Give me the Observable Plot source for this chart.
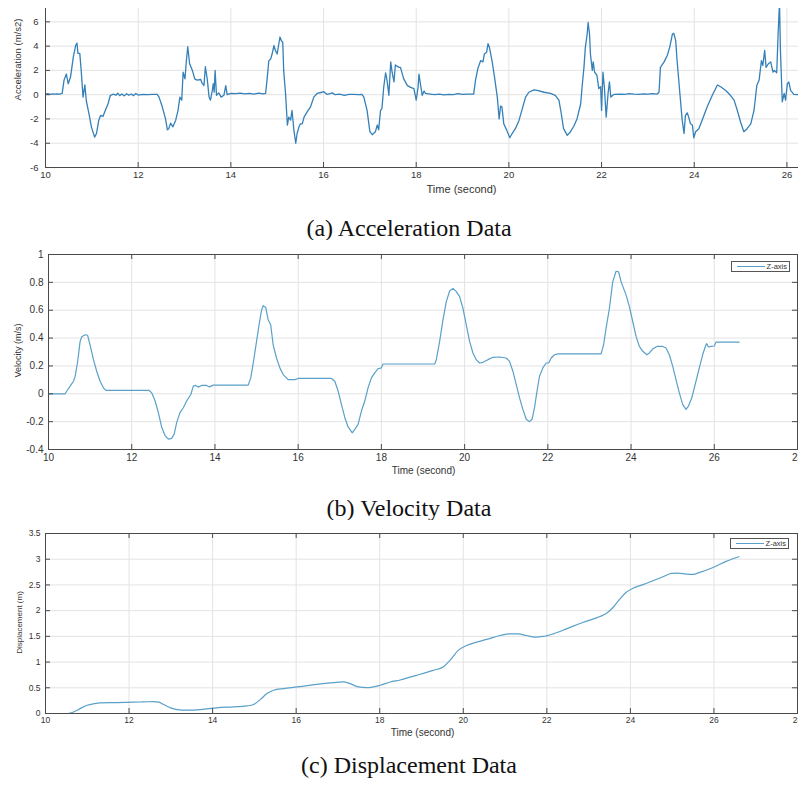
<!DOCTYPE html>
<html>
<head>
<meta charset="utf-8">
<script src="https://cdn.jsdelivr.net/npm/d3@7"></script>
<script src="https://cdn.jsdelivr.net/npm/@observablehq/plot@0.6"></script>
<style>
  body { margin: 0; background: #fff; width: 798px; overflow: hidden; }
  .panel { position: relative; width: 798px; }
  .panel svg { display: block; }
  .cap { font-family: "Liberation Serif", "DejaVu Serif", serif; font-size: 24px; line-height: 24px;
         text-align: center; color: #111; box-sizing: border-box; padding-left: 20px; width: 798px; }
  .legend { position: absolute; box-sizing: border-box; border: 1px solid #555; background: #fff;
            display: flex; align-items: center; justify-content: flex-end; padding-right: 2px;
            font: 7.5px "Liberation Sans", Arial, sans-serif; color: #333; }
  .lline { display: inline-block; width: 28px; height: 0; border-top: 1px solid #5aa0c8; margin-right: 2px; }
</style>
</head>
<body>
<div id="pa" class="panel"></div>
<div class="cap" style="padding-top:16px;height:40px">(a) Acceleration Data</div>
<div id="pb" class="panel"></div>
<div class="cap" style="padding-top:16px;height:40px">(b) Velocity Data</div>
<div id="pc" class="panel"></div>
<div class="cap" style="padding-top:8px;height:42px">(c) Displacement Data</div>
<script>
// ---------------- DATA ----------------
const accelT = [10.00,10.05,10.10,10.15,10.20,10.25,10.30,10.36,10.40,10.45,10.49,10.54,10.60,10.65,10.68,10.70,10.74,10.77,10.81,10.85,10.88,10.94,10.99,11.06,11.10,11.15,11.19,11.24,11.29,11.35,11.40,11.47,11.52,11.56,11.60,11.65,11.70,11.75,11.80,11.85,11.90,11.95,12.00,12.10,12.20,12.30,12.41,12.45,12.52,12.59,12.63,12.66,12.70,12.75,12.81,12.86,12.90,12.94,12.97,13.01,13.04,13.07,13.11,13.17,13.22,13.27,13.35,13.38,13.42,13.45,13.49,13.53,13.56,13.60,13.62,13.64,13.66,13.69,13.74,13.79,13.85,13.89,13.92,14.0,14.1,14.2,14.3,14.4,14.5,14.6,14.7,14.75,14.78,14.82,14.86,14.89,14.93,14.96,15.00,15.04,15.06,15.09,15.12,15.14,15.18,15.22,15.25,15.29,15.32,15.36,15.40,15.43,15.47,15.50,15.54,15.58,15.65,15.72,15.79,15.86,15.97,16.00,16.08,16.14,16.19,16.25,16.35,16.45,16.55,16.65,16.75,16.83,16.87,16.94,17.00,17.05,17.12,17.16,17.19,17.23,17.26,17.30,17.34,17.37,17.41,17.45,17.48,17.52,17.55,17.63,17.66,17.73,17.81,17.88,17.95,18.00,18.04,18.06,18.09,18.13,18.17,18.20,18.3,18.4,18.5,18.6,18.7,18.8,18.9,19.0,19.1,19.24,19.28,19.33,19.39,19.44,19.47,19.52,19.55,19.58,19.60,19.64,19.69,19.75,19.79,19.82,19.85,19.89,19.95,20.02,20.07,20.14,20.22,20.29,20.36,20.43,20.54,20.61,20.76,20.90,21.00,21.08,21.13,21.18,21.26,21.33,21.40,21.47,21.55,21.58,21.62,21.65,21.69,21.71,21.74,21.76,21.80,21.82,21.85,21.90,21.94,21.98,22.00,22.03,22.06,22.10,22.14,22.17,22.20,22.27,22.4,22.5,22.6,22.7,22.8,22.9,23.0,23.1,23.2,23.24,23.27,23.35,23.42,23.47,23.53,23.56,23.60,23.63,23.69,23.74,23.78,23.81,23.85,23.88,23.92,23.96,23.99,24.03,24.10,24.17,24.28,24.39,24.50,24.57,24.68,24.78,24.86,24.93,25.00,25.07,25.14,25.22,25.29,25.35,25.40,25.45,25.48,25.52,25.55,25.60,25.65,25.70,25.73,25.78,25.81,25.84,25.86,25.90,25.94,25.97,26.01,26.04,26.08,26.15,26.22,26.3];
const accelV = [0.05,0.08,0.03,0.07,0.05,0.06,0.04,0.1,1.2,1.7,0.9,1.45,3.1,4.05,4.25,3.4,3.4,2.0,-0.2,0.8,-0.5,-1.6,-2.65,-3.5,-3.2,-2.1,-1.7,-1.8,-1.3,-0.75,-0.05,0.05,-0.05,0.12,-0.08,0.05,-0.1,0.08,-0.05,0.06,-0.08,0.1,-0.03,0.02,0.0,0.03,0.02,-0.2,-1.0,-2.0,-2.9,-2.8,-2.35,-2.65,-2.1,-1.3,-0.2,-0.45,1.85,1.3,2.8,3.95,2.55,2.0,1.3,1.2,1.25,0.95,0.75,2.3,1.3,-0.2,-0.45,0.35,0.9,0.2,2.0,-0.05,0.15,-0.2,-0.05,0.75,0.0,0.1,0.08,0.12,0.06,0.1,0.05,0.12,0.06,0.1,1.2,2.8,2.95,3.35,4.05,3.65,3.35,4.3,4.75,4.45,4.3,2.0,0.1,-2.5,-1.85,-2.1,-1.3,-2.9,-4.0,-3.2,-2.65,-2.4,-2.4,-1.85,-1.4,-1.0,-0.2,0.1,0.2,0.25,0.02,0.08,0.15,0.0,0.05,-0.05,0.02,0.03,0.0,0.02,-0.2,-1.3,-3.05,-3.3,-3.05,-2.5,-2.9,-1.3,-1.15,0.65,1.8,1.2,-0.05,2.7,1.85,1.05,2.45,2.25,2.25,1.3,0.75,0.6,0.5,-0.45,0.6,1.7,0.9,-0.05,0.3,0.1,0.05,0.0,0.05,-0.02,0.02,0.0,0.08,0.02,0.05,0.05,1.2,2.15,2.8,2.7,3.35,3.5,4.2,3.9,3.5,2.7,1.45,-0.2,-2.0,-0.95,-1.0,-2.4,-2.9,-3.55,-3.2,-2.8,-2.1,-1.15,-0.2,0.2,0.4,0.35,0.2,0.1,-0.05,-0.45,-1.55,-2.8,-3.35,-3.05,-2.6,-2.0,-0.75,0.65,2.25,3.9,5.0,5.95,5.0,3.35,2.0,2.7,1.85,1.6,0.5,0.65,-1.3,1.85,0.65,-1.85,0.1,1.05,-0.2,0.03,0.05,0.02,0.08,0.05,0.03,0.06,0.04,0.08,0.05,0.2,2.25,2.7,3.25,3.9,5.0,5.05,4.45,2.8,0.1,-2.1,-3.2,-1.7,-1.5,-1.85,-2.4,-2.5,-3.55,-3.05,-2.8,-2.1,-1.0,-0.05,0.8,0.65,0.35,-0.05,-0.45,-1.3,-2.25,-3.05,-2.8,-2.4,-1.3,0.75,1.2,2.8,2.4,3.65,2.25,2.55,2.7,1.85,2.0,1.8,5.0,7.6,3.65,-0.6,0.1,-0.45,0.9,1.05,0.35,0.03,0.0,0.0];

const velT = [10.0,10.4,10.44,10.52,10.6,10.64,10.7,10.76,10.8,10.88,10.94,11.0,11.08,11.16,11.24,11.32,11.38,12.42,12.48,12.56,12.64,12.72,12.8,12.88,12.96,13.02,13.08,13.16,13.24,13.32,13.42,13.48,13.54,13.6,13.68,13.8,13.86,13.96,14.8,14.86,14.92,15.0,15.06,15.12,15.16,15.22,15.28,15.34,15.4,15.48,15.56,15.64,15.76,15.92,16.0,16.8,16.88,16.96,17.04,17.12,17.2,17.3,17.36,17.44,17.52,17.6,17.68,17.76,17.84,17.92,18.0,18.04,19.28,19.32,19.4,19.48,19.56,19.64,19.72,19.8,19.88,19.96,20.04,20.12,20.2,20.28,20.36,20.44,20.56,20.68,20.84,21.0,21.08,21.16,21.24,21.32,21.4,21.48,21.56,21.62,21.68,21.74,21.8,21.88,21.96,22.02,22.08,22.16,22.24,23.28,23.34,23.4,23.48,23.56,23.64,23.7,23.76,23.82,23.88,23.96,24.04,24.12,24.2,24.28,24.38,24.44,24.52,24.62,24.76,24.84,24.92,25.0,25.08,25.16,25.24,25.32,25.38,25.46,25.56,25.64,25.72,25.8,25.82,25.86,25.92,26.0,26.04,26.6];
const velV = [0,0,0.02,0.055,0.09,0.125,0.23,0.376,0.41,0.424,0.42,0.35,0.245,0.16,0.09,0.043,0.024,0.024,0.007,-0.05,-0.135,-0.24,-0.3,-0.326,-0.32,-0.29,-0.207,-0.135,-0.1,-0.052,-0.005,0.055,0.06,0.048,0.06,0.06,0.05,0.062,0.062,0.114,0.22,0.376,0.495,0.6,0.633,0.62,0.53,0.495,0.35,0.257,0.186,0.138,0.102,0.102,0.11,0.11,0.09,0.02,-0.076,-0.17,-0.238,-0.28,-0.255,-0.22,-0.124,-0.052,0.043,0.114,0.15,0.18,0.186,0.214,0.214,0.245,0.376,0.53,0.662,0.738,0.757,0.733,0.698,0.614,0.495,0.376,0.293,0.245,0.221,0.226,0.245,0.262,0.264,0.257,0.233,0.162,0.067,-0.029,-0.112,-0.183,-0.2,-0.183,-0.1,0.019,0.126,0.186,0.221,0.221,0.257,0.28,0.286,0.286,0.352,0.471,0.614,0.805,0.88,0.876,0.805,0.757,0.71,0.626,0.519,0.412,0.34,0.305,0.28,0.293,0.321,0.34,0.34,0.329,0.28,0.198,0.102,0.007,-0.076,-0.112,-0.088,-0.029,0.09,0.186,0.28,0.352,0.36,0.336,0.34,0.343,0.371,0.371];

const dispT = [10.0,10.52,10.64,10.84,11.0,11.16,11.31,11.71,12.11,12.35,12.59,12.71,12.83,12.99,13.15,13.39,13.71,14.1,14.5,14.82,14.98,15.14,15.3,15.46,15.7,16.02,16.49,16.89,17.13,17.29,17.49,17.69,18.01,18.25,18.49,18.88,19.28,19.52,19.68,19.88,20.08,20.24,20.56,20.88,21.12,21.31,21.51,21.71,21.91,22.15,22.47,22.87,23.27,23.43,23.59,23.75,23.9,24.06,24.3,24.54,24.78,24.98,25.14,25.34,25.5,25.66,25.98,26.29,26.6];
const dispV = [0,0,0.02,0.1,0.16,0.19,0.207,0.213,0.22,0.226,0.232,0.22,0.174,0.11,0.077,0.065,0.077,0.11,0.13,0.148,0.174,0.27,0.387,0.452,0.484,0.516,0.568,0.6,0.613,0.58,0.516,0.503,0.549,0.613,0.652,0.742,0.839,0.904,1.033,1.227,1.323,1.369,1.44,1.517,1.549,1.549,1.517,1.485,1.498,1.549,1.646,1.775,1.885,1.95,2.066,2.227,2.356,2.434,2.505,2.582,2.66,2.724,2.731,2.711,2.705,2.744,2.84,2.957,3.047];

const accelXTicks = [10,12,14,16,18,20,22,24,26];
const accelYTicks = [-6,-4,-2,0,2,4,6];
const fullXTicks = [10,12,14,16,18,20,22,24,26,28];
const velYTicks = [-0.4,-0.2,0,0.2,0.4,0.6,0.8,1];
const dispYTicks = [0,0.5,1,1.5,2,2.5,3,3.5];

const xLabel = "Time (second)";
const accelLabel = "Acceleration (m/s2)";
const velLabel = "Velocity (m/s)";
const dispLabel = "Displacement (m)";

// ---------------- DRAW ----------------
const fmt = d => String(d);
const axisColor = "#4a4a4a";
const gridColor = "#e3e3e3";

function makePanel(o) {
  const W = 798;
  const fw = W - o.marginLeft - o.marginRight;
  const fh = o.height - o.marginTop - o.marginBottom;
  const rows = o.t.map((t, i) => ({t, v: o.v[i]}));
  const marks = [
    Plot.gridX(o.xTicks, {stroke: gridColor, strokeOpacity: 1}),
    Plot.gridY(o.yTicks, {stroke: gridColor, strokeOpacity: 1}),
    Plot.line(rows, {x: "t", y: "v", stroke: o.stroke, strokeWidth: o.strokeWidth, curve: o.curve, clip: true}),
    Plot.tickX(o.xTicks, {x: d => d, insetTop: fh - 5, stroke: axisColor}),
    Plot.tickY(o.yTicks, {y: d => d, insetRight: fw - 5, stroke: axisColor})
  ];
  if (o.fullFrame) {
    marks.push(Plot.tickX(o.xTicks, {x: d => d, insetBottom: fh - 5, stroke: axisColor}));
    marks.push(Plot.tickY(o.yTicks, {y: d => d, insetLeft: fw - 5, stroke: axisColor}));
    marks.push(Plot.frame({stroke: axisColor}));
  } else {
    marks.push(Plot.ruleX([o.xDomain[0]], {stroke: axisColor}));
    marks.push(Plot.ruleY([o.yDomain[0]], {stroke: axisColor}));
  }
  marks.push(Plot.axisX(o.xTicks, {tickSize: 0, tickPadding: o.xPad, tickFormat: fmt, label: null, fontSize: o.tickFont}));
  marks.push(Plot.axisY(o.yTicks, {tickSize: 0, tickPadding: o.yPad, tickFormat: fmt, label: null, fontSize: o.tickFont}));
  marks.push(Plot.text([o.yLabel], {text: d => d, frameAnchor: "left", rotate: -90, textAnchor: "middle",
    lineAnchor: "middle", dx: o.yLabelDx, dy: o.yLabelDy, fontSize: o.yLabelSize, fill: "#333"}));
  marks.push(Plot.text([xLabel], {text: d => d, frameAnchor: "bottom", textAnchor: "middle",
    lineAnchor: "middle", dx: o.xLabelDx, dy: o.xLabelDy, fontSize: o.xLabelSize, fill: "#333"}));
  return Plot.plot({
    width: W, height: o.height,
    marginTop: o.marginTop, marginBottom: o.marginBottom, marginLeft: o.marginLeft, marginRight: o.marginRight,
    x: {domain: o.xDomain},
    y: {domain: o.yDomain},
    style: {fontFamily: "'Liberation Sans', Arial, sans-serif", color: "#333", background: "#fff"},
    marks
  });
}

document.getElementById("pa").append(makePanel({
  t: accelT, v: accelV, xDomain: [10, 26.25], yDomain: [-6, 7.1],
  xTicks: accelXTicks, yTicks: accelYTicks,
  height: 200, marginTop: 8, marginBottom: 33, marginLeft: 45, marginRight: 0,
  stroke: "#3580b8", strokeWidth: 1.3, curve: "linear", tickFont: 9.5, xPad: 4, yPad: 7,
  yLabel: accelLabel, yLabelDx: -28, yLabelDy: -28.5, yLabelSize: 9.5,
  xLabelDx: 39.5, xLabelDy: 22, xLabelSize: 11, fullFrame: false
}));

const pb = document.getElementById("pb");
pb.append(makePanel({
  t: velT, v: velV, xDomain: [10, 28], yDomain: [-0.4, 1],
  xTicks: fullXTicks, yTicks: velYTicks,
  height: 240, marginTop: 14, marginBottom: 31, marginLeft: 48, marginRight: 1,
  stroke: "#5aa0c8", strokeWidth: 1.2, curve: "linear", tickFont: 10, xPad: 4, yPad: 5,
  yLabel: velLabel, yLabelDx: -30, yLabelDy: -1.5, yLabelSize: 9,
  xLabelDx: 0.5, xLabelDy: 21, xLabelSize: 10, fullFrame: true
}));

const pc = document.getElementById("pc");
pc.append(makePanel({
  t: dispT, v: dispV, xDomain: [10, 28], yDomain: [0, 3.5],
  xTicks: fullXTicks, yTicks: dispYTicks,
  height: 225, marginTop: 13, marginBottom: 32, marginLeft: 45, marginRight: 1,
  stroke: "#5aa0c8", strokeWidth: 1.2, curve: "monotone-x", tickFont: 8.5, xPad: 3, yPad: 5,
  yLabel: dispLabel, yLabelDx: -26, yLabelDy: -1, yLabelSize: 8,
  xLabelDx: 1, xLabelDy: 19, xLabelSize: 10, fullFrame: true
}));

function addLegend(el, left, top) {
  const d = document.createElement("div");
  d.className = "legend";
  d.style.left = left + "px"; d.style.top = top + "px";
  d.style.width = "59px"; d.style.height = "11px";
  d.innerHTML = '<span class="lline"></span><span>Z-axis</span>';
  el.append(d);
}
addLegend(pb, 731, 21);
addLegend(pc, 730, 18);
</script>
</body>
</html>
